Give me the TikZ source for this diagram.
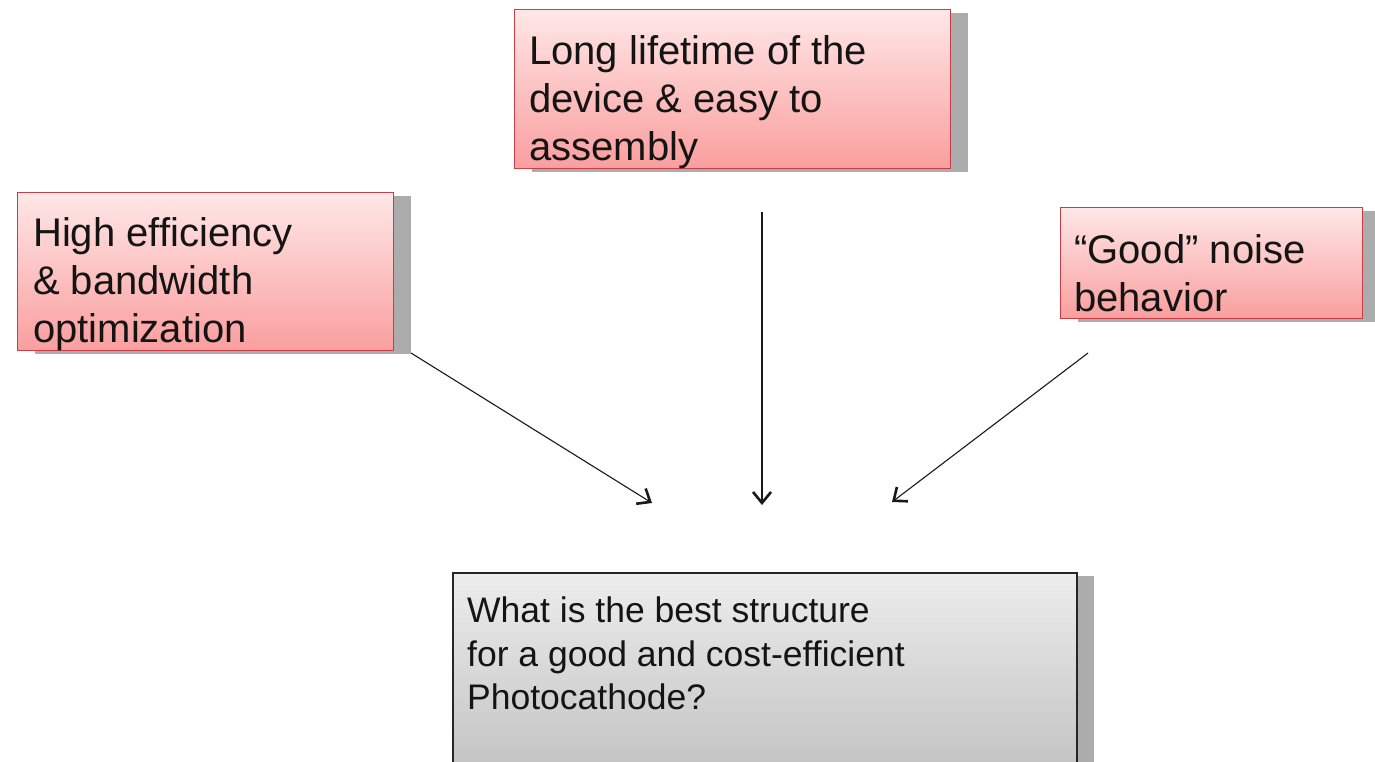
\documentclass[tikz,border=0pt]{standalone}
\usepackage{fontspec}
\setmainfont{Liberation Sans}
\usetikzlibrary{arrows.meta,shadows,calc}
\definecolor{redborder}{RGB}{200,62,72}
\definecolor{redtop}{RGB}{255,231,231}
\definecolor{redbottom}{RGB}{250,158,158}
\definecolor{graytop}{RGB}{237,237,237}
\definecolor{graybottom}{RGB}{186,186,186}
\definecolor{shadowgray}{RGB}{172,172,172}
\definecolor{txtcol}{RGB}{20,20,20}
\tikzset{
  redbox/.style={rectangle, draw=redborder, line width=1.4pt, top color=redtop, bottom color=redbottom,
    inner sep=0pt, anchor=north west,
    drop shadow={opacity=1, fill=shadowgray, shadow xshift=17pt, shadow yshift=-3pt}},
  graybox/.style={rectangle, draw=black!85, line width=1.5pt, top color=graytop, bottom color=graybottom,
    inner sep=0pt, anchor=north west,
    drop shadow={opacity=1, fill=shadowgray, shadow xshift=17pt, shadow yshift=-3pt}},
  bigtxt/.style={anchor=north west, inner sep=0pt, align=left, text=txtcol,
    font=\fontsize{40}{48}\selectfont},
  smalltxt/.style={anchor=north west, inner sep=0pt, align=left, text=txtcol,
    font=\fontsize{35.5}{43.5}\selectfont},
  conn/.style={line width=1.1pt, draw=black!90,
    -{Straight Barb[length=11pt,width=18pt,line width=2.6pt]}}
}
\begin{document}
\begin{tikzpicture}[x=1pt,y=-1pt]
\clip (0,0) rectangle (1375,761);
\fill[white] (0,0) rectangle (1375,761);
% boxes
\node[redbox, minimum width=376pt, minimum height=158pt] (a) at (17,192) {};
\node[redbox, minimum width=436pt, minimum height=159pt] (b) at (514,9) {};
\node[redbox, minimum width=302pt, minimum height=111pt] (c) at (1060,207) {};
\node[graybox, minimum width=624pt, minimum height=240pt] (d) at (452,572) {};
% texts
\node[bigtxt] (ta) at (33,217) {High efficiency\\\& bandwidth\\optimization};
\node[bigtxt] (tb) at (529,35) {Long lifetime of the\\device \& easy to\\assembly};
\node[bigtxt] (tc) at (1074,234) {“Good” noise\\behavior};
\node[smalltxt] (td) at (467,597) {What is the best structure\\for a good and cost-efficient\\Photocathode?};
% connector ends
\coordinate (s1) at (411,353);
\coordinate (e1) at (652,503);
\coordinate (s2) at (762,212);
\coordinate (e2) at (762,505);
\coordinate (s3) at (1088,353);
\coordinate (e3) at (892,502);
\draw[conn] (s1) -- (e1);
\draw[conn] (s2) -- (e2);
\draw[conn] (s3) -- (e3);
\end{tikzpicture}
\end{document}
